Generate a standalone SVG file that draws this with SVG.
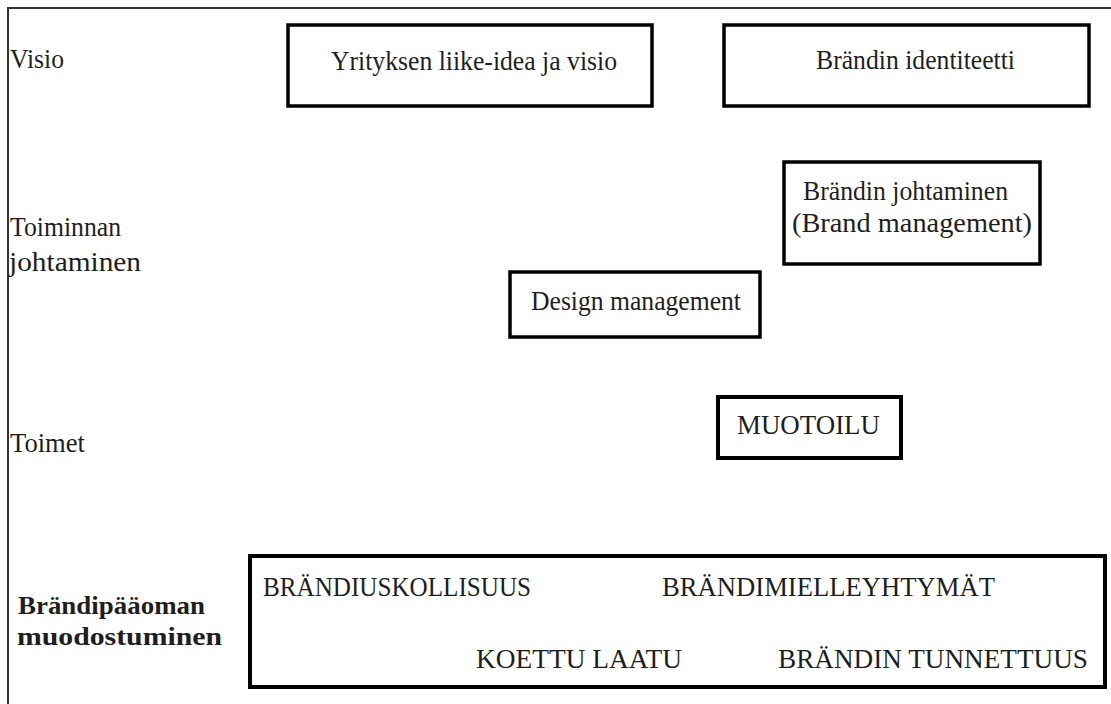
<svg xmlns="http://www.w3.org/2000/svg" width="1111" height="704" viewBox="0 0 1111 704">
<style>
.t{font-family:"Liberation Serif","DejaVu Serif",serif;font-size:27px;fill:#1e1e1e}
.b{font-family:"Liberation Serif","DejaVu Serif",serif;font-size:26px;font-weight:bold;fill:#1e1e1e}
.box{fill:#fff;stroke:#000;stroke-width:3.5}
.frame{stroke:#333;stroke-width:2;fill:none}
</style>
<rect width="1111" height="704" fill="#fff"/>
<g id="frame">
<path class="frame" d="M8,704 V8 H1111"/>
</g>
<g id="labels">
<text class="t" x="10" y="68" textLength="54" lengthAdjust="spacingAndGlyphs">Visio</text>
<text class="t" x="10" y="236" textLength="111" lengthAdjust="spacingAndGlyphs">Toiminnan</text>
<text class="t" x="9" y="271" textLength="132" lengthAdjust="spacingAndGlyphs">johtaminen</text>
<text class="t" x="10" y="452" textLength="75" lengthAdjust="spacingAndGlyphs">Toimet</text>
<text class="b" x="18" y="614" textLength="187" lengthAdjust="spacingAndGlyphs">Brändipääoman</text>
<text class="b" x="17" y="645" textLength="205" lengthAdjust="spacingAndGlyphs">muodostuminen</text>
</g>
<g id="node-yritys">
<rect class="box" x="288" y="25" width="364" height="81"/>
<text class="t" x="331" y="70" textLength="286" lengthAdjust="spacingAndGlyphs">Yrityksen liike-idea ja visio</text>
</g>
<g id="node-identiteetti">
<rect class="box" x="724" y="25" width="365" height="81"/>
<text class="t" x="816" y="69" textLength="199" lengthAdjust="spacingAndGlyphs">Brändin identiteetti</text>
</g>
<g id="node-brandjohtaminen">
<rect class="box" x="784" y="162" width="256" height="102"/>
<text class="t" x="803" y="200" textLength="205" lengthAdjust="spacingAndGlyphs">Brändin johtaminen</text>
<text class="t" x="792" y="232" textLength="240" lengthAdjust="spacingAndGlyphs">(Brand management)</text>
</g>
<g id="node-design">
<rect class="box" x="510" y="272" width="250" height="65"/>
<text class="t" x="531" y="310" textLength="210" lengthAdjust="spacingAndGlyphs">Design management</text>
</g>
<g id="node-muotoilu">
<rect class="box" x="718" y="397" width="183" height="61" style="stroke-width:4"/>
<text class="t" x="737" y="434" textLength="143" lengthAdjust="spacingAndGlyphs">MUOTOILU</text>
</g>
<g id="node-brandipaaoma">
<rect class="box" x="250" y="556" width="855" height="131" style="stroke-width:4"/>
<text class="t" x="263" y="596" textLength="268" lengthAdjust="spacingAndGlyphs">BRÄNDIUSKOLLISUUS</text>
<text class="t" x="662" y="596" textLength="333" lengthAdjust="spacingAndGlyphs">BRÄNDIMIELLEYHTYMÄT</text>
<text class="t" x="476" y="668" textLength="206" lengthAdjust="spacingAndGlyphs">KOETTU LAATU</text>
<text class="t" x="778" y="668" textLength="310" lengthAdjust="spacingAndGlyphs">BRÄNDIN TUNNETTUUS</text>
</g>
<g id="connectors"></g>
</svg>
